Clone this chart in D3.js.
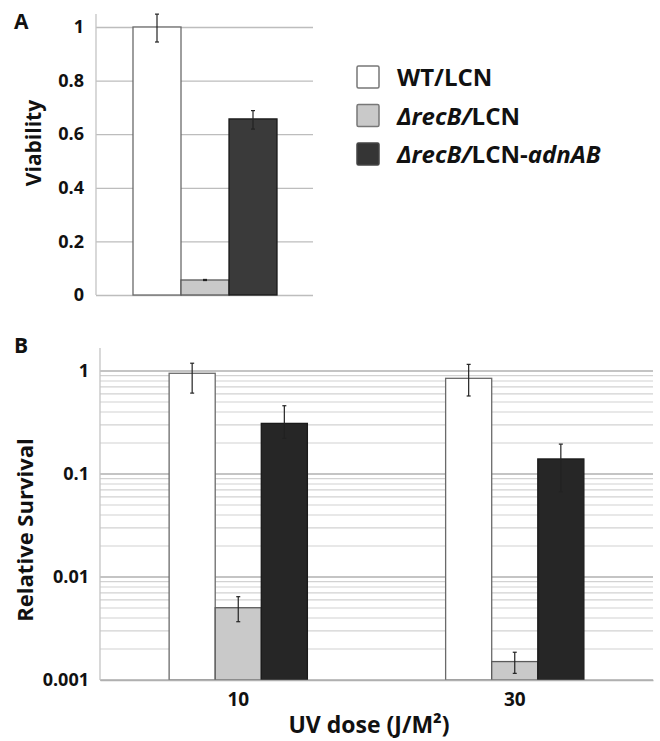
<!DOCTYPE html>
<html>
<head>
<meta charset="utf-8">
<script src="https://cdn.jsdelivr.net/npm/d3@7"></script>
<style>
  body { margin: 0; background: #fff; }
  text { font-family: "Open Sans", "Noto Sans", sans-serif; font-weight: bold; fill: #111; }
</style>
</head>
<body>
<svg id="canvas" width="660" height="741"></svg>
<script>
// Panel A data
const strains = ['WT/LCN', 'ΔrecB/LCN', 'ΔrecB/LCN-adnAB']
const viability = [1.0, 0.056, 0.657]
const viabilityLo = [0.944, 0.054, 0.619]
const viabilityHi = [1.048, 0.058, 0.688]
const viabilityTicks = [0, 0.2, 0.4, 0.6, 0.8, 1]

// Panel B data
const doses = ['10', '30']
const survival = [
    [0.95, 0.00503, 0.31],
    [0.849, 0.00151, 0.14]
]
const survivalLo = [
    [0.61, 0.00368, 0.222],
    [0.572, 0.00116, 0.0673]
]
const survivalHi = [
    [1.19, 0.00644, 0.46],
    [1.16, 0.00186, 0.195]
]
const survivalTicks = [0.001, 0.01, 0.1, 1]

const fillsA = ['#ffffff', '#c9c9c9', '#3a3a3a'],
    fillsB = ['#ffffff', '#c9c9c9', '#262626'],
    strokes = ['#6a6a6a', '#5a5a5a', '#1a1a1a']

const svg = d3.select('#canvas')

function errorBar(g, x, lo, hi, cap) {
    g.append('line').attr('x1', x).attr('x2', x).attr('y1', lo).attr('y2', hi)
        .attr('stroke', '#222').attr('stroke-width', 1.2)
    ;[lo, hi].forEach(y => g.append('line')
        .attr('x1', x - cap).attr('x2', x + cap).attr('y1', y).attr('y2', y)
        .attr('stroke', '#222').attr('stroke-width', 1.2))
}

// ---------- Panel A ----------
const xA = d3.scaleBand().domain(strains).range([133, 277]).padding(0)
const yA = d3.scaleLinear().domain([0, 1]).range([295, 27])
const gA = svg.append('g')

gA.append('g').classed('grid', true)
    .attr('transform', 'translate(96,0)')
    .call(d3.axisLeft(yA).tickValues(viabilityTicks).tickSize(-217).tickFormat(d3.format('~g')).tickPadding(12))
    .call(g => g.select('.domain').remove())
    .call(g => g.selectAll('.tick line').attr('stroke', '#bdbdbd').attr('stroke-width', 1.3))
    .call(g => g.selectAll('.tick text').attr('font-size', 18).attr('fill', '#111'))

gA.append('line').attr('x1', 96).attr('x2', 96).attr('y1', 14).attr('y2', 295)
    .attr('stroke', '#c4c4c4').attr('stroke-width', 1.3)

gA.selectAll('rect.bar')
    .data(viability)
    .enter()
        .append('rect').classed('bar', true)
        .attr('x', (d, i) => xA(strains[i]))
        .attr('y', d => yA(d))
        .attr('width', xA.bandwidth())
        .attr('height', d => yA(0) - yA(d))
        .attr('fill', (d, i) => fillsA[i])
        .attr('stroke', (d, i) => strokes[i])
        .attr('stroke-width', 1.3)

viability.forEach((d, i) => errorBar(gA, xA(strains[i]) + xA.bandwidth() / 2, yA(viabilityLo[i]), yA(viabilityHi[i]), 2))

gA.append('text').attr('transform', 'translate(41,143) rotate(-90)')
    .attr('text-anchor', 'middle').attr('font-size', 21).text('Viability')

svg.append('text').attr('x', 14).attr('y', 29).attr('font-size', 21).text('A')

// Legend
const legend = svg.append('g').attr('transform', 'translate(357,66)')
strains.forEach((s, i) => {
    const row = legend.append('g').attr('transform', `translate(0,${i * 38.5})`)
    row.append('rect').attr('width', 22).attr('height', 22).attr('rx', 1.5)
        .attr('fill', i === 2 ? '#353535' : fillsA[i]).attr('stroke', i === 2 ? '#444' : '#777').attr('stroke-width', 1.5)
    const t = row.append('text').attr('x', 40).attr('y', 20).attr('font-size', 24)
    if (i === 0) t.text(s)
    else {
        t.append('tspan').attr('font-style', 'italic').text('ΔrecB/')
        t.append('tspan').text('LCN')
        if (i === 2) {
            t.append('tspan').text('-')
            t.append('tspan').attr('font-style', 'italic').text('adnAB')
        }
    }
})

// ---------- Panel B ----------
const x0 = d3.scaleBand().domain(doses).range([100, 653]).padding(0)
const x1 = d3.scaleBand().domain(strains).range([0, x0.bandwidth()]).paddingInner(0).paddingOuter(1.5)
const yB = d3.scaleLog().domain([0.001, 1.2]).range([680, 680 - 103 * (3 + Math.log10(1.2))])
const gB = svg.append('g')

const minorTicks = yB.ticks().filter(t => t <= 1)
gB.append('g').classed('minor-grid', true)
    .selectAll('line')
    .data(minorTicks)
    .enter()
        .append('line')
        .attr('x1', 100).attr('x2', 653)
        .attr('y1', d => yB(d)).attr('y2', d => yB(d))
        .attr('stroke', d => survivalTicks.includes(d) ? '#b0b0b0' : '#d2d2d2')
        .attr('stroke-width', d => survivalTicks.includes(d) ? 1.6 : 1.2)

gB.append('g')
    .attr('transform', 'translate(100,0)')
    .call(d3.axisLeft(yB).tickValues(survivalTicks).tickSize(0).tickPadding(11).tickFormat(d3.format('~g')))
    .call(g => g.select('.domain').remove())
    .call(g => g.selectAll('.tick text').attr('font-size', 18).attr('fill', '#111'))

gB.append('line').attr('x1', 100).attr('x2', 100).attr('y1', 348).attr('y2', 680)
    .attr('stroke', '#c4c4c4').attr('stroke-width', 1.3)

const groups = gB.selectAll('g.dose')
    .data(survival)
    .enter()
        .append('g').classed('dose', true)
        .attr('transform', (d, i) => `translate(${x0(doses[i])},0)`)

groups.selectAll('rect')
    .data(d => d)
    .enter()
        .append('rect')
        .attr('x', (d, i) => x1(strains[i]))
        .attr('y', d => yB(d))
        .attr('width', x1.bandwidth())
        .attr('height', d => yB(0.001) - yB(d))
        .attr('fill', (d, i) => fillsB[i])
        .attr('stroke', (d, i) => strokes[i])
        .attr('stroke-width', 1.3)

survival.forEach((row, j) => row.forEach((d, i) => {
    const cx = x0(doses[j]) + x1(strains[i]) + x1.bandwidth() / 2
    errorBar(gB, cx, yB(survivalLo[j][i]), yB(survivalHi[j][i]), 2)
}))

gB.append('g')
    .attr('transform', 'translate(0,680)')
    .call(d3.axisBottom(x0).tickSize(0).tickPadding(13))
    .call(g => g.select('.domain').attr('stroke', '#b0b0b0').attr('stroke-width', 1.6))
    .call(g => g.selectAll('.tick text').attr('font-size', 19).attr('fill', '#111'))

gB.append('text').attr('transform', 'translate(33,530) rotate(-90)')
    .attr('text-anchor', 'middle').attr('font-size', 22).text('Relative Survival')

gB.append('text').attr('x', 369).attr('y', 733).attr('text-anchor', 'middle').attr('font-size', 23)
    .text('UV dose (J/M²)')

svg.append('text').attr('x', 14).attr('y', 353).attr('font-size', 21).text('B')
</script>
</body>
</html>
